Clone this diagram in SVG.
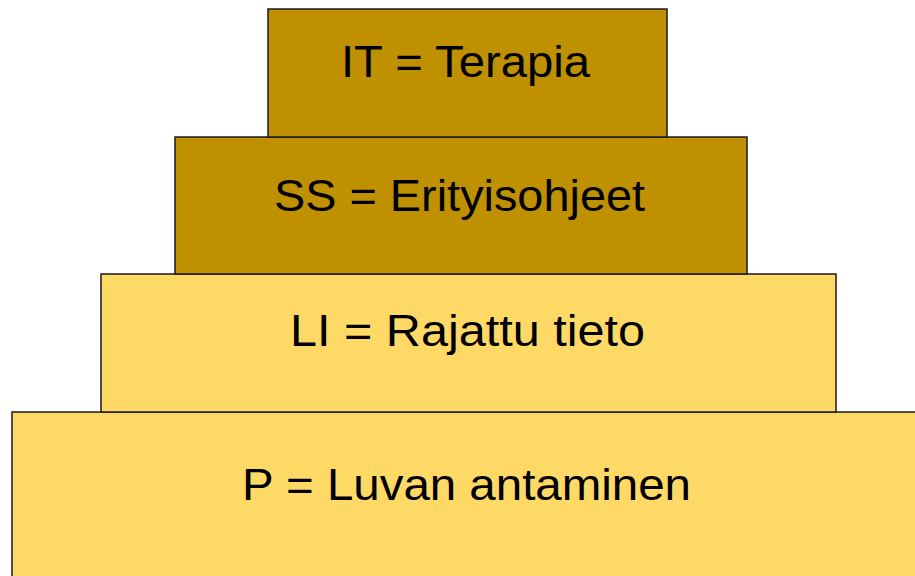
<svg xmlns="http://www.w3.org/2000/svg" width="915" height="576" viewBox="0 0 915 576">
<style>
.box{stroke:#1a1a1a;stroke-width:1.5}
.dark{fill:#BF9000}
.light{fill:#FFD966}
.lbl{font-family:"Liberation Sans",Arial,sans-serif;font-size:45px;fill:#000;text-anchor:start}
</style>
<rect width="915" height="576" fill="#fff"/>
<g id="level-p">
<rect class="box light" x="12" y="412" width="910" height="170"/>
<text class="lbl" x="242" y="500" textLength="449" lengthAdjust="spacingAndGlyphs">P = Luvan antaminen</text>
</g>
<g id="level-li">
<rect class="box light" x="101" y="274" width="735" height="138"/>
<text class="lbl" x="290" y="346" textLength="355" lengthAdjust="spacingAndGlyphs">LI = Rajattu tieto</text>
</g>
<g id="level-ss">
<rect class="box dark" x="175" y="137" width="572" height="137"/>
<text class="lbl" x="274" y="211" textLength="371" lengthAdjust="spacingAndGlyphs">SS = Erityisohjeet</text>
</g>
<g id="level-it">
<rect class="box dark" x="268" y="9" width="399" height="128"/>
<text class="lbl" x="341" y="77" textLength="249" lengthAdjust="spacingAndGlyphs">IT = Terapia</text>
</g>
<g id="connectors"></g>
</svg>
